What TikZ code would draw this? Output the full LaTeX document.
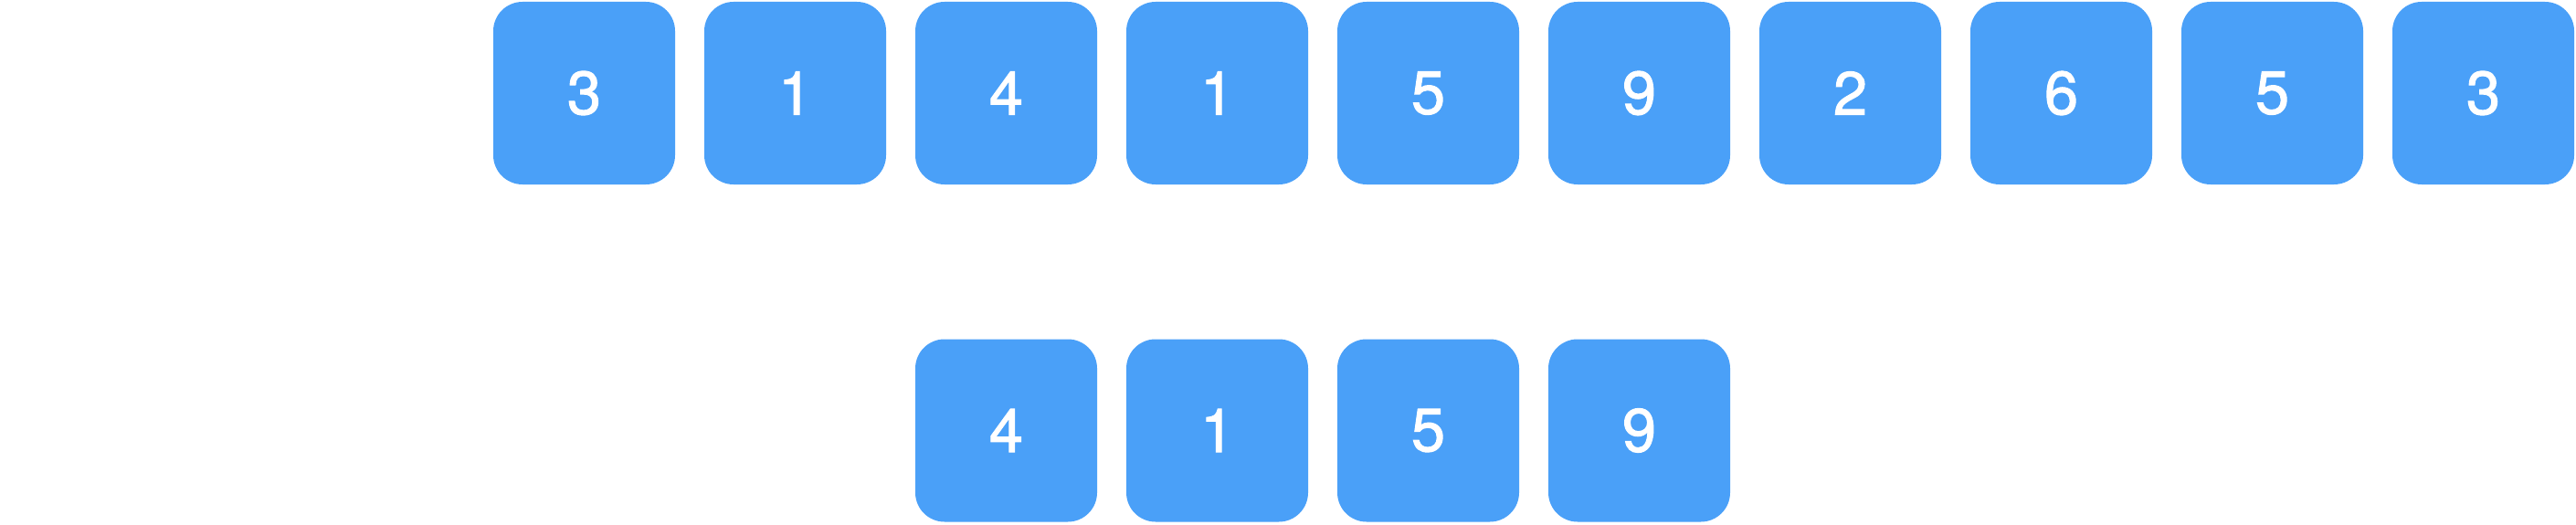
\documentclass[tikz,border=0pt]{standalone}
\usepackage{fontspec}
\setmainfont{TeX Gyre Heros}
\newfontfamily\cellfont{TeX Gyre Heros}[FakeBold=1.5]
\usepackage{tikz}
\definecolor{cellblue}{RGB}{74,160,248}
\tikzset{cell/.style={fill=cellblue,text=white,rounded corners=0.32cm,minimum width=1.99cm,minimum height=2cm,inner sep=0pt,font=\cellfont\fontsize{19}{19}\selectfont}}

\begin{document}
\begin{tikzpicture}
        \useasboundingbox (0,0) rectangle (28.2,5.74);
        \node[cell](t1) at (6.395,4.72) {3};
        \node[cell](t2) at (8.705,4.72) {1};
        \node[cell](t3) at (11.015,4.72) {4};
        \node[cell](t4) at (13.325,4.72) {1};
        \node[cell](t5) at (15.635,4.72) {5};
        \node[cell](t6) at (17.945,4.72) {9};
        \node[cell](t7) at (20.255,4.72) {2};
        \node[cell](t8) at (22.565,4.72) {6};
        \node[cell](t9) at (24.875,4.72) {5};
        \node[cell](t10) at (27.185,4.72) {3};
        \node[cell](b1) at (11.015,1.025) {4};
        \node[cell](b2) at (13.325,1.025) {1};
        \node[cell](b3) at (15.635,1.025) {5};
        \node[cell](b4) at (17.945,1.025) {9};
    \end{tikzpicture}
\end{document}
